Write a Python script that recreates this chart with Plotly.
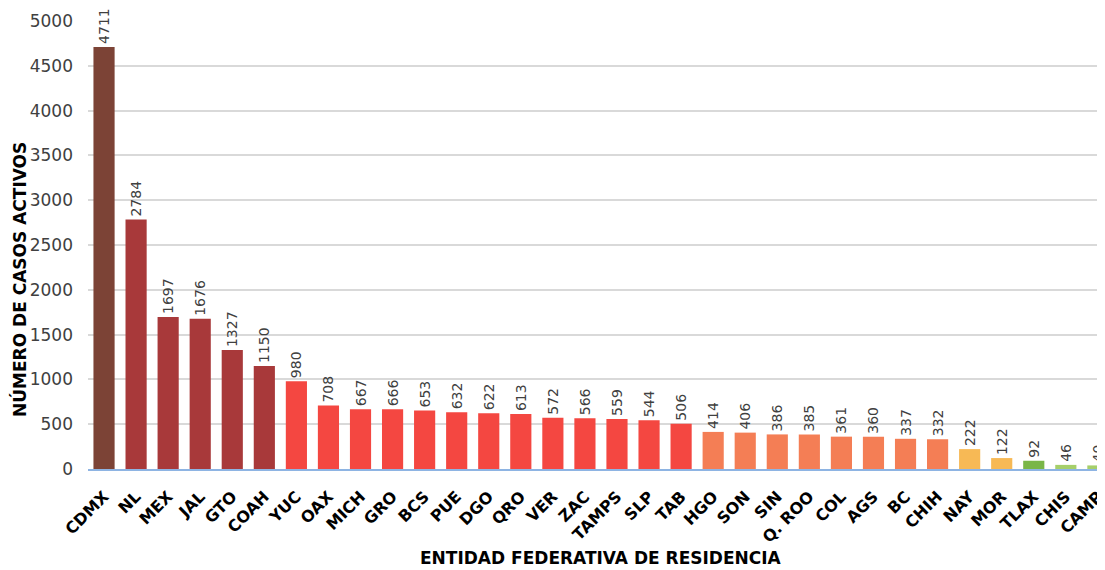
import plotly.graph_objects as go

estados = ["CDMX", "NL", "MEX", "JAL", "GTO", "COAH", "YUC", "OAX", "MICH", "GRO", "BCS", "PUE",
           "DGO", "QRO", "VER", "ZAC", "TAMPS", "SLP", "TAB", "HGO", "SON", "SIN", "Q. ROO", "COL",
           "AGS", "BC", "CHIH", "NAY", "MOR", "TLAX", "CHIS", "CAMP"]
casos = [4711, 2784, 1697, 1676, 1327, 1150, 980, 708, 667, 666, 653, 632,
         622, 613, 572, 566, 559, 544, 506, 414, 406, 386, 385, 361,
         360, 337, 332, 222, 122, 92, 46, 40]
colores = (["#7C4336"] + ["#A8393A"] * 5 + ["#F44741"] * 13 + ["#F47E55"] * 8
           + ["#F7B955"] * 2 + ["#7AB648"] + ["#A6CF6A"] * 2)
y_ticks = [0, 500, 1000, 1500, 2000, 2500, 3000, 3500, 4000, 4500, 5000]

FONT = "DejaVu Sans"
L, T, B = 80, 13, 109
PW, PH = 1105 - L, 570 - T - B

fig = go.Figure(go.Bar(
    x=list(range(len(estados))), y=casos,
    marker=dict(color=colores, line=dict(width=0)),
    width=0.66,
    text=[str(v) for v in casos], textposition="outside", textangle=-90,
    constraintext="none",
    textfont=dict(family=FONT, size=14, color="#404040"),
    cliponaxis=False,
))

fig.update_layout(
    width=1105, height=570,
    margin=dict(l=L, r=0, t=T, b=B),
    paper_bgcolor="white", plot_bgcolor="white",
    showlegend=False,
    font=dict(family=FONT, color="#404040"),
    annotations=[
        dict(text="<b>ENTIDAD FEDERATIVA DE RESIDENCIA</b>", xref="paper", yref="paper",
             x=(601 - 8 - L) / PW, y=-(558 - 469) / PH, xanchor="center", yanchor="middle",
             showarrow=False, font=dict(family=FONT, size=17, color="#000000")),
        dict(text="<b>NÚMERO DE CASOS ACTIVOS</b>", xref="paper", yref="paper",
             x=-(L + 8 - 19) / PW, y=(469 - 280) / PH, xanchor="center", yanchor="middle",
             textangle=-90, showarrow=False, font=dict(family=FONT, size=17, color="#000000")),
    ],
)
fig.update_xaxes(
    tickmode="array", tickvals=list(range(len(estados))), ticktext=[f"<b>{e}</b>" for e in estados],
    tickangle=-45, tickfont=dict(family=FONT, size=16, color="#000000"),
    ticklabelstandoff=10,
    range=[-0.5, -0.5 + PW / 32.06], showgrid=False, showline=True, linecolor="#8EB4E3", linewidth=2,
    automargin=False,
)
fig.update_yaxes(
    range=[0, 5000], tickvals=y_ticks,
    tickfont=dict(family=FONT, size=17, color="#404040"),
    ticklabelstandoff=14,
    showgrid=True, gridcolor="#D9D9D9", gridwidth=1.5, zeroline=False,
    automargin=False,
)

fig.write_html("out.html")
